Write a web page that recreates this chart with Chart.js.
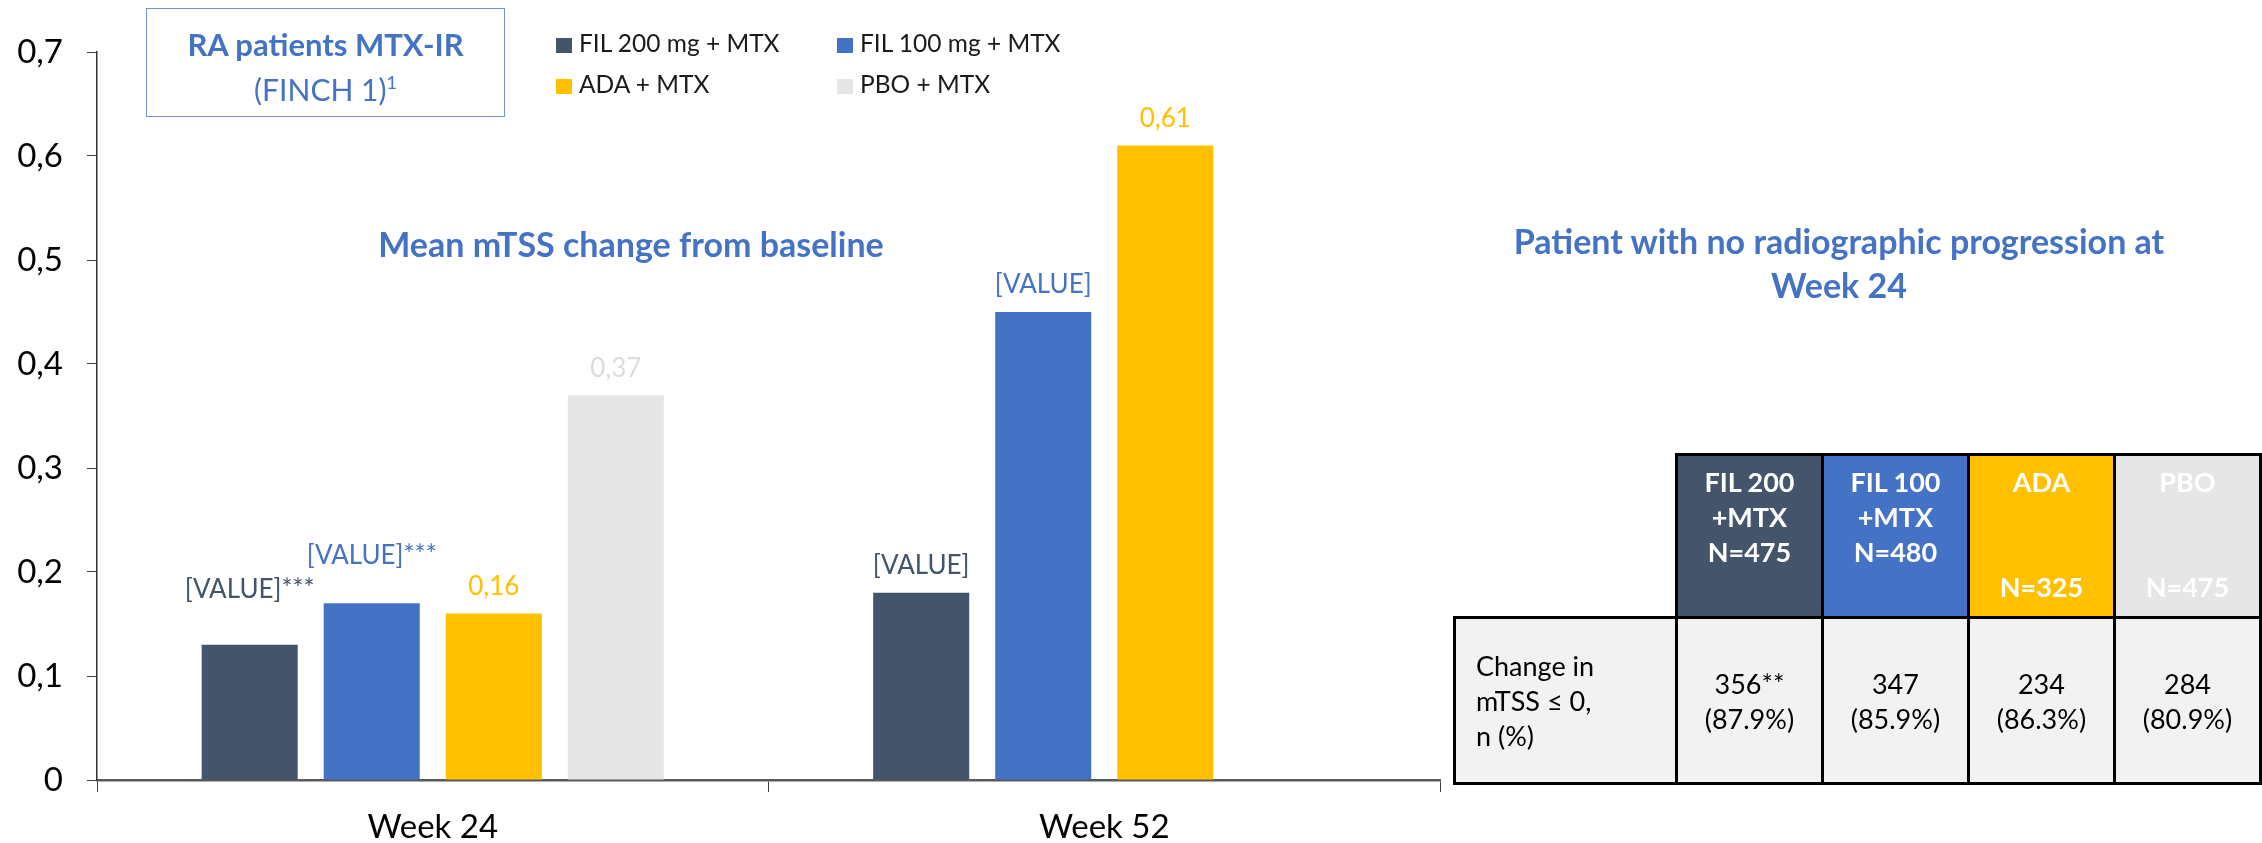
<!DOCTYPE html>
<html>
<head>
<meta charset="utf-8">
<script src="https://cdn.jsdelivr.net/npm/chart.js@4.4.1/dist/chart.umd.min.js"></script>
<style>
    body { margin: 0; background: #fff; font-family: Lato, "Open Sans", sans-serif; }
    #wrap { position: relative; width: 2262px; height: 843px; overflow: hidden; }
    #chart { position: absolute; left: 0; top: 0; }
    .blue { color: #4472C4; }
    #study-box {
        position: absolute; left: 146px; top: 8px; width: 357px; height: 107px;
        border: 1.5px solid #6F93D3; text-align: center;
    }
    #study-box .l1 { position: absolute; left: 0; right: 0; top: 16px; font-weight: bold; font-size: 31px; line-height: 38px; }
    #study-box .l2 { position: absolute; left: 0; right: 0; top: 61px; font-size: 30px; line-height: 38px; }
    #study-box sup { font-size: 18px; vertical-align: 12px; line-height: 0; }
    #legend { position: absolute; left: 556px; top: 28px; width: 600px; }
    .leg-item { position: absolute; font-size: 24.5px; line-height: 30px; color: #1a1a1a; white-space: nowrap; }
    .leg-item span.sw { display: inline-block; width: 16px; height: 15px; margin-right: 7px; vertical-align: -1px; }
    #subtitle { position: absolute; left: 281px; width: 700px; top: 224px; text-align: center; font-weight: bold; font-size: 34px; line-height: 40px; }
    #right-title { position: absolute; left: 1389px; width: 900px; top: 219px; text-align: center; font-weight: bold; font-size: 34px; line-height: 44px; }
    #summary { position: absolute; left: 1453px; top: 453px; border-collapse: collapse; table-layout: fixed; }
    #summary td { border: 3px solid #000; padding: 0; font-size: 27px; text-align: center; }
    #summary td.blank { border: none; }
    #summary tr.head td { height: 152px; vertical-align: top; color: #fff; font-weight: bold; line-height: 35px; padding-top: 8px; }
    #summary tr.body td { height: 163px; background: #F2F2F2; color: #000; line-height: 35px; }
    #summary tr.body td.rowlab { text-align: left; padding-left: 20px; }
</style>
</head>
<body>
<div id="wrap">
    <canvas id="chart" width="2262" height="843"></canvas>
    <div id="study-box" class="blue">
        <div class="l1">RA patients MTX-IR</div>
        <div class="l2">(FINCH 1)<sup>1</sup></div>
    </div>
    <div id="legend"></div>
    <div id="subtitle" class="blue">Mean mTSS change from baseline</div>
    <div id="right-title" class="blue">Patient with no radiographic progression at<br>Week 24</div>
    <table id="summary"></table>
</div>
<script>
// Chart data
const categories = ["Week 24", "Week 52"];
const seriesNames = ["FIL 200 mg + MTX", "FIL 100 mg + MTX", "ADA + MTX", "PBO + MTX"];
const seriesColors = ["#44546A", "#4472C4", "#FFC000", "#E7E6E6"];
const labelColors = ["#44546A", "#4472C4", "#FFC000", "#DCDCDC"];

const fil200Values = [0.13, 0.18];
const fil100Values = [0.17, 0.45];
const adaValues = [0.16, 0.61];
const pboValues = [0.37, null];

const fil200Labels = ["[VALUE]***", "[VALUE]"];
const fil100Labels = ["[VALUE]***", "[VALUE]"];
const adaLabels = ["0,16", "0,61"];
const pboLabels = ["0,37", ""];

const yTickValues = [0, 0.1, 0.2, 0.3, 0.4, 0.5, 0.6, 0.7];

// Table data
const tableHeads = [
    ["FIL 200", "+MTX", "N=475", ""],
    ["FIL 100", "+MTX", "N=480", ""],
    ["ADA", "", "", "N=325"],
    ["PBO", "", "", "N=475"]
];
const rowLabel = ["Change in", "mTSS \u2264 0,", "n (%)"];
const rowCounts = ["356**", "347", "234", "284"];
const rowPercents = ["(87.9%)", "(85.9%)", "(86.3%)", "(80.9%)"];

// Draw a label above each bar
const barLabels = {
    id: "barLabels",
    afterDatasetsDraw(chart, args, opts) {
        const ctx = chart.ctx;
        ctx.save();
        ctx.font = opts.size + "px Lato";
        ctx.textAlign = "center";
        ctx.textBaseline = "middle";
        chart.data.datasets.forEach((ds, i) => {
            chart.getDatasetMeta(i).data.forEach((bar, j) => {
                const text = ds.valueLabels[j];
                if (!text || ds.data[j] == null) return;
                const lift = opts.lift[i + "-" + j] || 0;
                ctx.fillStyle = labelColors[i];
                ctx.fillText(text, bar.x, bar.y - opts.offset - lift);
            });
        });
        ctx.restore();
    }
};

const valueSets = [fil200Values, fil100Values, adaValues, pboValues];
const labelSets = [fil200Labels, fil100Labels, adaLabels, pboLabels];

new Chart(document.getElementById("chart"), {
    type: "bar",
    data: {
        labels: categories,
        datasets: seriesNames.map((name, i) => ({
            label: name,
            data: valueSets[i],
            valueLabels: labelSets[i],
            backgroundColor: seriesColors[i],
            categoryPercentage: 0.727,
            barPercentage: 0.787
        }))
    },
    options: {
        responsive: false,
        animation: false,
        devicePixelRatio: 1,
        layout: { padding: { top: 52, right: 822, left: 0, bottom: 0 } },
        plugins: {
            legend: { display: false },
            tooltip: { enabled: false },
            barLabels: { size: 26, offset: 27, lift: { "0-0": 28, "1-0": 21 } }
        },
        scales: {
            x: {
                grid: { offset: true, drawOnChartArea: false, tickLength: 12, color: "#404040", lineWidth: 1 },
                border: { color: "#595959", width: 2.5 },
                ticks: { font: { family: "Lato", size: 33 }, color: "#000", padding: 16 },
                afterFit: (scale) => { scale.height = 63; }
            },
            y: {
                min: 0,
                max: 0.7,
                afterBuildTicks: (scale) => { scale.ticks = yTickValues.map(v => ({ value: v })); },
                ticks: {
                    font: { family: "Lato", size: 33 },
                    color: "#000",
                    padding: 24,
                    callback: (v) => v === 0 ? "0" : v.toFixed(1).replace(".", ",")
                },
                grid: { drawOnChartArea: false, tickLength: 10, color: "#404040", lineWidth: 1 },
                border: { color: "#333", width: 1.5 },
                afterFit: (scale) => { scale.width = 97; }
            }
        }
    },
    plugins: [barLabels]
});

// Legend, two columns
const legend = document.getElementById("legend");
seriesNames.forEach((name, i) => {
    const item = document.createElement("div");
    item.className = "leg-item";
    item.style.left = (i % 2) * 281 + "px";
    item.style.top = Math.floor(i / 2) * 41 + "px";
    item.innerHTML = `<span class="sw" style="background:${seriesColors[i]}"></span>${name}`;
    legend.appendChild(item);
});

// Summary table
const table = document.getElementById("summary");
const colWidths = [226, 148, 148, 148, 148];
const colgroup = document.createElement("colgroup");
colWidths.forEach(w => {
    const col = document.createElement("col");
    col.style.width = w + "px";
    colgroup.appendChild(col);
});
table.appendChild(colgroup);

const headRow = document.createElement("tr");
headRow.className = "head";
headRow.innerHTML = `<td class="blank"></td>` + tableHeads.map((lines, i) =>
    `<td style="background:${seriesColors[i]}">${lines.map(l => l || "&nbsp;").join("<br>")}</td>`).join("");
table.appendChild(headRow);

const bodyRow = document.createElement("tr");
bodyRow.className = "body";
bodyRow.innerHTML = `<td class="rowlab">${rowLabel.join("<br>")}</td>` + rowCounts.map((c, i) =>
    `<td>${c}<br>${rowPercents[i]}</td>`).join("");
table.appendChild(bodyRow);
</script>
</body>
</html>
